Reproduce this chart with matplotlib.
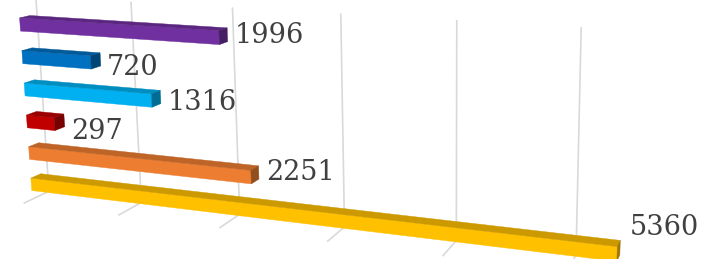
import matplotlib
matplotlib.use("Agg")
import matplotlib.pyplot as plt
import matplotlib.transforms as mtransforms
from matplotlib.colors import to_rgb
from mpl_toolkits.mplot3d import proj3d
from mpl_toolkits.mplot3d.art3d import Poly3DCollection
import numpy as np

# bars listed bottom to top
values = [5360, 2251, 297, 1316, 720, 1996]
colors = ['#FFC000', '#ED7D31', '#C00000', '#00B0F0', '#0070C0', '#7030A0']
labels = ['5360', '2251', '297', '1316', '720', '1996']
grid_ticks = [0, 1000, 2000, 3000, 4000, 5000, 6000]

W, H = 702, 259
fig = plt.figure(figsize=(W / 100, H / 100), dpi=100)

# square 3d axes, camera aimed at (cx, cy) px of the figure
S = 1076.6
cx, cy = 444, 227.5
f0 = 0.095 / 0.185
ax = fig.add_axes([(cx - f0 * S) / W, (cy - f0 * S) / H, S / W, S / H],
                  projection='3d', computed_zorder=False)
ax.set_proj_type('persp', focal_length=0.1901)
ax.view_init(elev=10.4, azim=-71.7)
ax.set_xlim(0, 7900)
ax.set_ylim(0, 1)
ax.set_zlim(0, 12)
ax.set_box_aspect((1011, 44, 455))
ax.set_axis_off()

# back wall + floor gridlines
for t in grid_ticks:
    ax.plot([t, t], [1, 1], [0, 6.2], color='#d9d9d9', lw=1.2, zorder=1)
    ax.plot([t, t], [1, 0], [0, 0], color='#d9d9d9', lw=1.2, zorder=1)

y0, y1 = 0.3, 0.7
for i, (v, c) in enumerate(zip(values, colors)):
    z0, z1 = i + 0.3, i + 0.7
    rgb = np.array(to_rgb(c))
    front = [(0, y0, z0), (v, y0, z0), (v, y0, z1), (0, y0, z1)]
    top = [(0, y0, z1), (v, y0, z1), (v, y1, z1), (0, y1, z1)]
    side = [(v, y0, z0), (v, y1, z0), (v, y1, z1), (v, y0, z1)]
    ax.add_collection3d(Poly3DCollection([front], facecolors=[rgb], edgecolors=[rgb], lw=0.3, zorder=2))
    ax.add_collection3d(Poly3DCollection([top], facecolors=[rgb * 0.8], edgecolors=[rgb * 0.8], lw=0.3, zorder=2))
    ax.add_collection3d(Poly3DCollection([side], facecolors=[rgb * 0.62], edgecolors=[rgb * 0.62], lw=0.3, zorder=2))

fig.canvas.draw()
M = ax.get_proj()


def to_px(x, y, z):
    px, py, _ = proj3d.proj_transform(np.array([x]), np.array([y]), np.array([z]), M)
    return ax.transData.transform((px[0], py[0]))


# labels sit at the bar end, tilted back by the slope of the wall top
wl = to_px(0, 1, 6)
wr = to_px(6000, 1, 6)
slope = (wr[1] - wl[1]) / (wr[0] - wl[0])
x_ref = to_px(1500, 1, 6)[0]
fs = 19.5
for i, (v, lab) in enumerate(zip(values, labels)):
    end = to_px(v, 0.5, i + 0.5)
    lx = end[0] + 12
    ly = end[1] - slope * (end[0] - x_ref)
    fig.text(lx, ly - 0.729 * fs * 100 / 72 / 2, lab, transform=mtransforms.IdentityTransform(),
             ha='left', va='baseline', fontsize=fs, family='DejaVu Serif', color='#404040')

fig.savefig('out.png', dpi=100)
